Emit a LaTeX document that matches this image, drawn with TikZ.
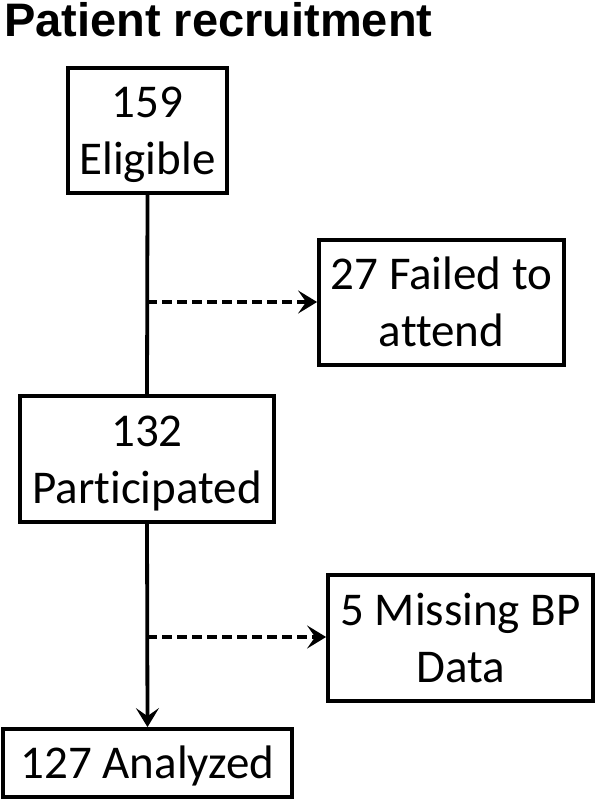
\documentclass[tikz,border=0pt]{standalone}
\usepackage{fontspec}
\setmainfont{Carlito}[Ligatures=NoCommon]
\newfontfamily\titlefont{Liberation Sans}
\usetikzlibrary{arrows.meta}
\newcommand\topstrut{\rule{0pt}{40pt}}
\newcommand\botstrut{\rule[-9pt]{0pt}{9pt}}
\tikzset{
  boxnode/.style={draw=black, line width=3.8pt, inner sep=0pt, align=center,
    font=\fontsize{47}{57}\selectfont},
  flowline/.style={line width=3.8pt},
  dashline/.style={line width=3.8pt, dash pattern=on 10pt off 5pt},
  tip/.style={-{Stealth[length=19pt,width=23pt,inset=8pt]}}
}
\begin{document}
\begin{tikzpicture}[x=1pt,y=-1pt]
\useasboundingbox (0,0) rectangle (595,800);
\node[anchor=base west, inner sep=0pt, font=\titlefont\bfseries\fontsize{47}{56}\selectfont] (title) at (4,36.5) {Patient recruitment};
\node[boxnode, minimum width=159pt, minimum height=125pt] (elig) at (147.5,130.5) {\topstrut 159\\Eligible\botstrut};
\node[boxnode, minimum width=254pt, minimum height=126pt] (part) at (147,459) {\topstrut 132\\Participated\botstrut};
\node[boxnode, minimum width=245pt, minimum height=125pt] (fail) at (441.5,302.5) {\topstrut 27 Failed to\\attend\botstrut};
\node[boxnode, minimum width=265pt, minimum height=126pt] (miss) at (460.5,638) {\topstrut 5 Missing BP\\Data\botstrut};
\node[boxnode, minimum width=289pt, minimum height=68pt] (anal) at (147.5,763) {\topstrut 127 Analyzed\botstrut};
\coordinate (j1) at (147,302);
\coordinate (j2) at (147,637);
\draw[flowline] (elig.south) -- (part.north);
\draw[flowline, tip] (part.south) -- (anal.north);
\draw[dashline, tip] (j1) -- (fail.west |- j1);
\draw[dashline, tip] (j2) -- (miss.west |- j2);
\end{tikzpicture}
\end{document}
